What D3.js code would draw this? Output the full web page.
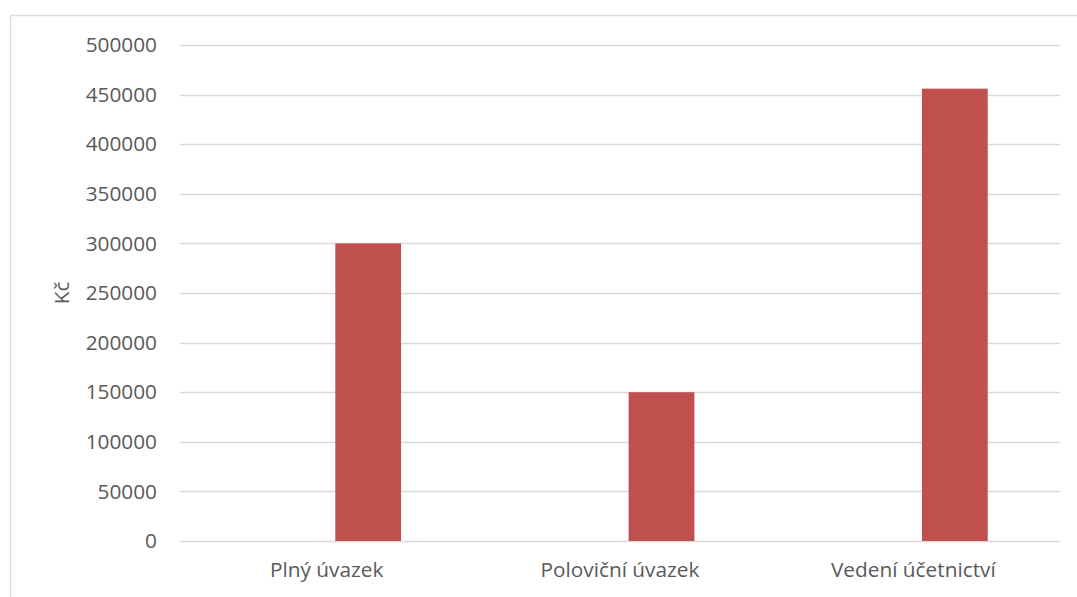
<!DOCTYPE html>
<html>
<head>
<meta charset="utf-8">
<script src="https://cdn.jsdelivr.net/npm/d3@7"></script>
<style>
  html, body { margin: 0; padding: 0; background: #ffffff; }
  svg { display: block; }
  text { font-family: "Open Sans", "Noto Sans", sans-serif; fill: #595959; }
</style>
</head>
<body>
<script>
// Annual cost per variant (Kč); the first series is empty, the second holds the costs
const categories = ["Plný úvazek", "Poloviční úvazek", "Vedení účetnictví"];
const seriesNames = ["Řada 1", "Náklady"];
const seriesEmpty = [0, 0, 0];
const seriesCost = [300000, 150000, 456000];
const yTicks = [0, 50000, 100000, 150000, 200000, 250000, 300000, 350000, 400000, 450000, 500000];
const yTitle = "Kč";

const W = 1077, H = 597;
const plot = { left: 180, right: 1060, top: 45, bottom: 541 };
const fontSize = 20.8;

const svg = d3.select("body").append("svg")
  .attr("width", W).attr("height", H);

// chart frame (top and left edges visible)
svg.append("path")
  .attr("d", `M10.5,${H} L10.5,15.5 L${W},15.5`)
  .attr("fill", "none")
  .attr("stroke", "#d9d9d9")
  .attr("stroke-width", 1.3);

const x = d3.scaleBand()
  .domain(categories)
  .range([plot.left, plot.right])
  .paddingInner(0).paddingOuter(0);

const xs = d3.scaleBand()
  .domain(d3.range(seriesNames.length))
  .range([0, x.bandwidth()])
  .paddingInner(0.208)
  .paddingOuter(0.871);

const y = d3.scaleLinear()
  .domain([0, 500000])
  .range([plot.bottom, plot.top]);

// horizontal gridlines
svg.append("g")
  .selectAll("line")
  .data(yTicks)
  .join("line")
  .attr("x1", plot.left).attr("x2", plot.right)
  .attr("y1", d => Math.round(y(d)) + 0.5)
  .attr("y2", d => Math.round(y(d)) + 0.5)
  .attr("stroke", "#d9d9d9")
  .attr("stroke-width", 1.3);

// y tick labels
const yAxis = d3.axisLeft(y).tickValues(yTicks).tickSize(0).tickPadding(0)
  .tickFormat(d3.format("d"));
const gy = svg.append("g")
  .attr("transform", `translate(157,0)`)
  .call(yAxis);
gy.select(".domain").remove();
gy.selectAll("text")
  .attr("font-size", fontSize)
  .attr("font-family", "'Open Sans', 'Noto Sans', sans-serif")
  .attr("fill", "#595959");

// bars
const seriesData = [seriesEmpty, seriesCost];
seriesData.forEach((vals, si) => {
  svg.append("g")
    .selectAll("rect")
    .data(vals.map((v, i) => ({ cat: categories[i], v })))
    .join("rect")
    .attr("x", d => x(d.cat) + xs(si))
    .attr("width", xs.bandwidth())
    .attr("y", d => y(d.v))
    .attr("height", d => y(0) - y(d.v))
    .attr("fill", "#c0504d");
});

// x category labels
const xAxis = d3.axisBottom(x).tickSize(0).tickPadding(0);
const gx = svg.append("g")
  .attr("transform", `translate(0,${plot.bottom + 21})`)
  .call(xAxis);
gx.select(".domain").remove();
gx.selectAll("text")
  .attr("font-size", fontSize)
  .attr("font-family", "'Open Sans', 'Noto Sans', sans-serif")
  .attr("fill", "#595959");

// y axis title
svg.append("text")
  .attr("transform", "translate(61,293) rotate(-90)")
  .attr("text-anchor", "middle")
  .attr("dominant-baseline", "central")
  .attr("font-size", fontSize)
  .text(yTitle);
</script>
</body>
</html>
